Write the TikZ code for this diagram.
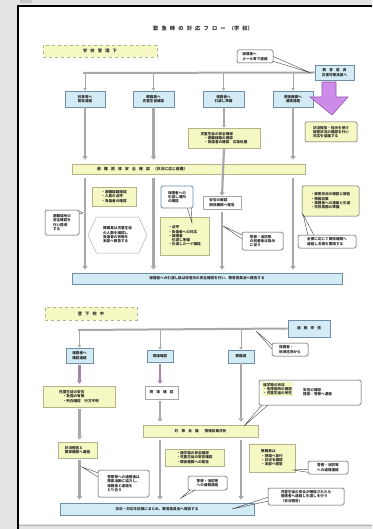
\documentclass[tikz,border=0pt]{standalone}
\usepackage{fontspec}
\newfontfamily\jp{Noto Sans CJK JP}
\usetikzlibrary{arrows.meta,shapes.symbols}

\definecolor{pagegray}{HTML}{E3E3E3}
\definecolor{yfill}{HTML}{F6F8C4}
\definecolor{yline}{HTML}{B4B48C}
\definecolor{bfill}{HTML}{D3EBF4}
\definecolor{bline}{HTML}{6D8EA6}
\definecolor{agray}{HTML}{A8A8AC}
\definecolor{vfill}{HTML}{CC8CE8}
\definecolor{vline}{HTML}{9556B4}
\definecolor{ink}{HTML}{2A2A2A}

\tikzset{
  txt/.style={font=\jp\bfseries\fontsize{3.6}{4.3}\selectfont, text=ink, inner sep=1pt, align=left},
  yellowbox/.style={txt, fill=yfill, draw=yline, line width=0.5pt},
  yellowround/.style={yellowbox, draw=gray!70!black, rounded corners=1.5pt},
  bluebox/.style={txt, fill=bfill, draw=bline, line width=0.7pt, align=center},
  whitebox/.style={txt, fill=white, draw=gray!70, line width=0.5pt},
  callout/.style={txt, fill=white, draw=gray!60!black, line width=0.5pt, rounded corners=1.5pt},
  bluecallout/.style={callout, draw=bline, line width=0.8pt},
  header/.style={txt, font=\jp\bfseries\fontsize{4.2}{5}\selectfont, fill=yfill, draw=yline,
    line width=0.6pt, dashed, align=center},
  flow/.style={draw=agray, line width=2.6pt, -{Triangle[width=5pt,length=3.5pt]}},
  flowline/.style={draw=agray, line width=2pt},
  smallflow/.style={draw=agray, line width=0.8pt, -{Triangle[width=3pt,length=2.5pt]}},
  tail/.style={draw=gray!55!black, line width=0.4pt},
}

% box from (x1,y1) to (x2,y2): name, x1, y1, x2, y2, style, text
\newcommand{\mkbox}[7]{%
  \node[#6, minimum width={(#4-#2)*1pt}, minimum height={(#5-#3)*1pt}]
    (#1) at ({(#2+#4)/2},{(#3+#5)/2}) {#7};}
\newcommand{\gap}{\hspace{3.2pt}}

\begin{document}
\begin{tikzpicture}[x=1pt,y=-1pt]
\useasboundingbox (0,0) rectangle (372,529);

% page background, sheet and frame
\fill[pagegray] (0,0) rectangle (372,529);
\fill[white] (18,6) rectangle (372,524);
\fill[gray!45] (20,0.5) rectangle (32,3);
\draw[gray!60, line width=0.6pt] (18,525) -- (372,525);
\draw[black, line width=2.4pt] (18,529) -- (18,6) -- (372,6);

% title
\node[txt, font=\jp\bfseries\fontsize{5.2}{6}\selectfont] (title) at (203,29)
  {緊\gap 急\gap 時\gap の\gap 対\gap 応\gap フ\gap ロ\gap ー\gap（学\gap 校）};

% ---------- upper section ----------
\mkbox{h1}{43}{45}{157}{57}{header}{学\gap 校\gap 管\gap 理\gap 下}
\mkbox{tc}{237}{50}{273}{63}{callout}{保護者へ\\メール等で連絡}
\mkbox{rb}{315}{65}{354}{80}{bluebox}{教\gap 育\gap 委\gap 員\\災害対策本部へ}

\coordinate (hl) at (83,73);
\coordinate (tct) at (311,73);
\draw[flowline] (hl) -- (rb.west);
\draw[tail] (tc.east) -- (tct) -- ([yshift=2pt]tc.south east);

\mkbox{b1}{65}{91}{105}{107}{bluebox}{校長等へ\\緊急連絡}
\mkbox{b2}{133}{91}{174}{107}{bluebox}{教職員へ\\児童生徒確認}
\mkbox{b3}{203}{91}{244}{107}{bluebox}{保護者へ\\引渡し準備}
\mkbox{b4}{273}{91}{313}{107}{bluebox}{関係機関へ\\通報連絡}
\foreach \b in {b1,b2,b3,b4}
  \draw[smallflow] (\b.north |- hl) -- (\b.north);

% purple block arrow below the board of education
\draw[fill=vfill, draw=vline, line width=0.6pt]
  (328,82) -- (336,82) -- (336,97) -- (348,97) -- (332,115) -- (310,97) -- (322,97) -- (322,82) -- cycle;

\mkbox{ry}{305}{122}{357}{142}{yellowround}{状況報告・指示を受け\\被害状況の確認を行い\\対応を協議する}
\mkbox{cb}{188}{128}{260}{148}{yellowbox}{児童生徒の安全確保\\　・避難経路の確認\\　・負傷者の確認　応急処置}
\draw[smallflow, line width=1.6pt] (b3.south -| cb.north) -- (cb.north);

\mkbox{bar1}{72}{164}{305}{174}{yellowbox}{}
\node[txt, font=\jp\bfseries\fontsize{3.8}{4.5}\selectfont, anchor=west] (bar1t) at (96,169)
  {避\gap 難\gap 誘\gap 導\gap 安\gap 全\gap 確\gap 認\gap（状況に応じ避難）};

\draw[flow, shorten >=4pt] (b1.south) -- (b1.south |- bar1.north);
\draw[flow, shorten >=4pt] (b2.south) -- (b2.south |- bar1.north);
\draw[flow, shorten >=4pt] (b4.south) -- (b4.south |- bar1.north);

\mkbox{lyb}{92}{187}{136}{206}{yellowbox}{・避難経路確認\\・人員の点呼\\・負傷者の確認}
\mkbox{lco}{45}{210}{79}{235}{callout}{避難場所の\\安全確認を\\行い誘導\\する}
\node[txt, signal, signal to=east and west, signal pointer angle=130, draw=gray!60, fill=white,
  line width=0.5pt, minimum width=59pt, minimum height=36pt] (hex) at (117.5,235)
  {教職員は児童生徒\\の人数を確認し\\負傷者の有無を\\本部へ報告する};
\mkbox{bco}{161}{186}{193}{208}{bluecallout}{保護者への\\引渡し場所\\の確認}
\mkbox{myb}{160}{217}{209}{255}{yellowbox}{・点呼\\・負傷者への対応\\・保護者\\　引渡し準備\\・引渡しカード確認}
\mkbox{sbx}{203}{196}{241}{209}{whitebox}{安否の確認\\関係機関へ報告}
\mkbox{c2}{242}{232}{283}{250}{callout}{警察・消防等\\の到着後は指示\\に従う}
\mkbox{ryb}{302}{186}{359}{216}{yellowround}{・被害状況の確認と報告\\・情報収集\\・保護者への連絡と引渡\\・学校再開の準備}
\mkbox{c3}{298}{235}{356}{248}{callout}{必要に応じて関係機関へ\\連絡し支援を要請する}

\mkbox{bar2}{72}{273}{342}{284}{bluebox}{保護者への引渡し後は校舎内の安全確認を行い、教育委員会へ報告する}

\draw[flow, line width=2.2pt] (cb.south) -- (sbx.north);
\draw[flow, shorten <=4pt, shorten >=3pt] (b1.south |- bar1.south) -- (b1.south |- bar2.north);
\draw[flow, shorten <=4pt, shorten >=3pt] (b2.south |- bar1.south) -- (b2.south |- bar2.north);
\draw[flow, shorten <=4pt, shorten >=3pt] (b4.south |- bar1.south) -- (b4.south |- bar2.north);
\draw[flow, shorten <=3pt, shorten >=3pt] (sbx.south) -- (sbx.south |- bar2.north);

% callout pointers
\coordinate (lcot) at (83,213);
\draw[tail] ([yshift=-1pt]lco.north east) -- (lcot) -- ([yshift=-4pt]lco.north east);
\coordinate (bcot) at (192,223);
\draw[tail] ([xshift=-6pt]bco.south east) -- (bcot) -- ([xshift=-2pt]bco.south east);
\coordinate (c2t) at (223,226);
\draw[tail] ([yshift=-3pt]c2.north west) -- (c2t) -- ([yshift=-7pt]c2.north west);
\coordinate (c3t) at (303,214);
\draw[tail] ([xshift=10pt]c3.north west) -- (c3t) -- ([xshift=16pt]c3.north west);

% ---------- lower section ----------
\mkbox{h2}{45}{307}{137}{320}{header}{登\gap 下\gap 校\gap 中}
\mkbox{rb2}{288}{320}{330}{337}{bluebox}{通\gap 報\gap 受\gap 信}
\coordinate (hl2) at (78,330);
\draw[flowline] (hl2) -- (rb2.west);
\mkbox{c4}{272}{343}{308}{356}{callout}{保護者・\\地域住民から}
\coordinate (c4t) at (256,331);
\draw[tail] ([yshift=-2pt]c4.north west) -- (c4t) -- ([yshift=-6pt]c4.north west);

\mkbox{A}{66}{348}{93}{363}{bluebox}{保護者へ\\確認連絡}
\mkbox{B}{147}{350}{173}{362}{bluebox}{現場確認}
\mkbox{C}{228}{350}{254}{363}{bluebox}{教職員}
\foreach \b in {A,B,C}
  \draw[smallflow] (\b.north |- hl2) -- (\b.north);

\mkbox{A2}{43}{386}{115}{407}{yellowbox}{児童生徒の安否\\　・負傷の有無\\　・所在確認　行方不明}
\mkbox{B2}{145}{386}{178}{399}{whitebox}{現\gap 場\gap 確\gap 認}
\draw[flow, draw=agray!80!violet, shorten <=2pt, shorten >=2pt] (A.south) -- (A2.north -| A.south);
\draw[flow, draw=agray!80!violet, shorten <=2pt, shorten >=2pt] (B.south) -- (B2.north -| B.south);

\mkbox{c5}{259}{380}{361}{405}{callout}{}
\node[txt, fill=yfill, anchor=north west] (c5a) at (262,382) {通学路の状況\\・危険箇所の確認\\・児童生徒の所在};
\node[txt, anchor=west] (c5b) at (302,392) {安否の確認\\捜索・警察へ連絡};

\mkbox{bar3}{143}{425}{258}{437}{yellowbox}{対\gap 策\gap 会\gap 議\hspace{6pt}情報収集共有}
\draw[flow, shorten >=3pt] (C.south) -- (C.south |- bar3.north);
\draw[flow, shorten <=2pt, shorten >=3pt] (B2.south -| B.south) -- (B.south |- bar3.north);
\coordinate (c5t) at (244,426);
\draw[tail] ([xshift=3pt]c5.south west) -- (c5t) -- ([xshift=9pt]c5.south west);

\mkbox{A3}{58}{442}{97}{458}{yellowbox}{状況報告と\\関係機関へ連絡}
\draw[flow, shorten <=2pt, shorten >=2pt] (A2.south -| A.south) -- (A3.north -| A.south);
\mkbox{c6}{98}{470}{149}{497}{callout}{警察等への通報後は\\捜索活動に協力し、\\保護者と連絡を\\とり合う}
\mkbox{d1}{165}{449}{224}{466}{yellowbox}{・通学路の安全確認\\・児童生徒の安否確認\\・関係機関への報告}
\mkbox{c7}{188}{476}{227}{490}{callout}{警察・消防等\\への通報連絡}
\mkbox{d2}{249}{444}{295}{472}{yellowbox}{教職員は\\・現場へ急行\\・状況を確認\\・本部へ報告}
\mkbox{c8}{308}{461}{348}{474}{callout}{警察・消防等\\への通報連絡}
\mkbox{c9}{268}{488}{344}{505}{callout}{児童生徒の安全が確保されたら\\保護者へ連絡し引渡しを行う\\（状況報告）}

\mkbox{bar4}{60}{503}{254}{515}{bluebox}{状況・対応を記録にまとめ、教育委員会へ報告する}

\draw[flow, shorten <=2pt, shorten >=3pt] (A3.south -| A.south) -- (A.south |- bar4.north);
\draw[flow, shorten <=3pt, shorten >=3pt] (B.south |- bar3.south) -- (B.south |- bar4.north);
\draw[flow, shorten <=3pt, shorten >=3pt] (C.south |- bar3.south) -- (C.south |- bar4.north);

\coordinate (c6t) at (82,467);
\draw[tail] ([yshift=-3pt]c6.north west) -- (c6t) -- ([yshift=-7pt]c6.north west);
\coordinate (c7t) at (181,498);
\draw[tail] ([xshift=2pt]c7.south west) -- (c7t) -- ([xshift=7pt]c7.south west);
\coordinate (c8t) at (293,470);
\draw[tail] ([yshift=2pt]c8.south west) -- (c8t) -- ([yshift=5pt]c8.south west);
\coordinate (c9t) at (232,509);
\draw[tail] ([yshift=4pt]c9.south west) -- (c9t) -- ([yshift=8pt]c9.south west);
\end{tikzpicture}
\end{document}
